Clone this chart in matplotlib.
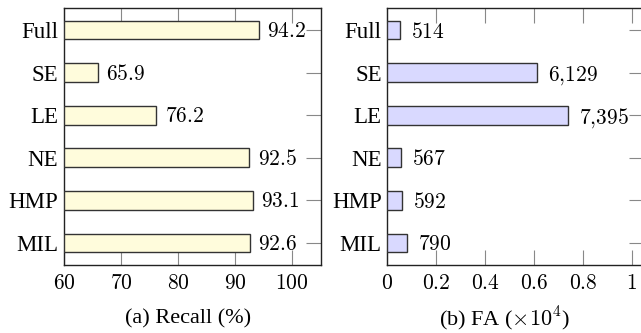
import matplotlib
matplotlib.use('Agg')
import matplotlib.pyplot as plt

methods = ['Full', 'SE', 'LE', 'NE', 'HMP', 'MIL']
recall = [94.2, 65.9, 76.2, 92.5, 93.1, 92.6]
fa = [514, 6129, 7395, 567, 592, 790]

recall_ticks = [60, 70, 80, 90, 100]
recall_tick_labels = ['60', '70', '80', '90', '100']
fa_ticks = [0, 0.2, 0.4, 0.6, 0.8, 1.0]
fa_tick_labels = ['0', '0.2', '0.4', '0.6', '0.8', '1']

plt.rcParams['font.family'] = ['Liberation Serif', 'DejaVu Serif']
plt.rcParams['mathtext.fontset'] = 'cm'
plt.rcParams['font.size'] = 16


def math(s):
    return '$' + s.replace(',', '{,}') + '$'


def style_axis(ax):
    for s in ax.spines.values():
        s.set_linewidth(1.0)
        s.set_color('#222222')
    ax.tick_params(axis='x', direction='in', length=11, width=0.8, color='#888888',
                   top=True, bottom=True, pad=7, labelsize=15.5)
    ax.tick_params(axis='y', direction='in', length=11, width=0.8, color='#888888',
                   left=False, right=True, pad=4, labelsize=16.5)


def label_bars(ax, bars, labels, pad):
    for bar, lbl in zip(bars, labels):
        ax.annotate(lbl, (bar.get_x() + bar.get_width(), bar.get_y() + bar.get_height() / 2),
                    xytext=(pad, 0), textcoords='offset points',
                    ha='left', va='center_baseline', fontsize=15.5)


def main():
    fig = plt.figure(figsize=(6.41, 3.33), dpi=100)
    ax1 = fig.add_axes([0.0998, 0.2042, 0.4005, 0.7718])
    ax2 = fig.add_axes([0.6042, 0.2042, 0.4003, 0.7718])

    ypos = list(range(len(methods)))

    bars1 = ax1.barh(ypos, [r - 60 for r in recall], left=60, height=0.44,
                     color='#FFFCDC', edgecolor='#333333', linewidth=1.0, zorder=3)
    label_bars(ax1, bars1, [math(f'{v:.1f}') for v in recall], 6)
    ax1.set_xlim(60, 105)
    ax1.set_xticks(recall_ticks)
    ax1.set_xticklabels([math(t) for t in recall_tick_labels])

    fa_scaled = [v / 1e4 for v in fa]
    bars2 = ax2.barh(ypos, fa_scaled, height=0.44,
                     color='#D9D9FF', edgecolor='#333333', linewidth=1.0, zorder=3)
    label_bars(ax2, bars2, [math(f'{v:,}') for v in fa], 8)
    ax2.set_xlim(0, 1.05)
    ax2.set_xticks(fa_ticks)
    ax2.set_xticklabels([math(t) for t in fa_tick_labels])

    for ax in (ax1, ax2):
        ax.set_yticks(ypos)
        ax.set_yticklabels(methods)
        ax.set_ylim(5.52, -0.52)
        style_axis(ax)

    fig.text(188 / 641, 1 - 319 / 333, '(a) Recall (%)', ha='center', va='center', fontsize=16)
    fig.text(505 / 641, 1 - 319 / 333, r'(b) FA ($\times10^4$)', ha='center', va='center', fontsize=16)

    fig.savefig('out.png', dpi=100)


if __name__ == '__main__':
    main()
